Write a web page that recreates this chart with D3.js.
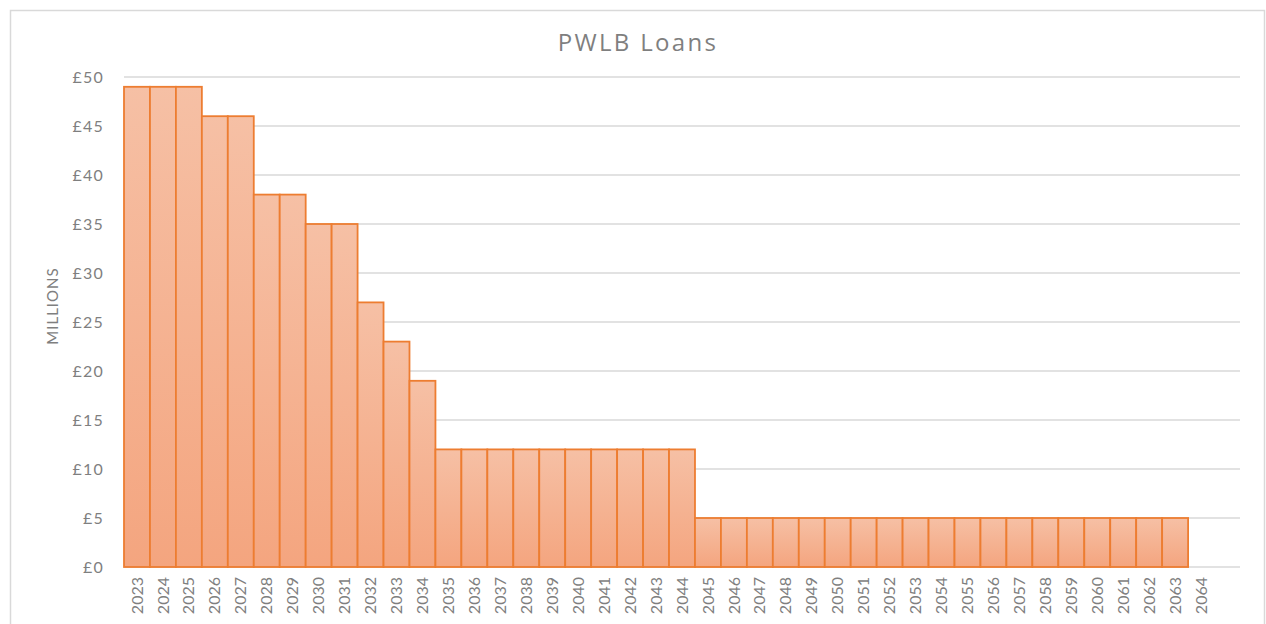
<!DOCTYPE html>
<html>
<head>
<meta charset="utf-8">
<script src="https://cdn.jsdelivr.net/npm/d3@7"></script>
<style>
  body { margin: 0; background: #fff; }
  svg { display: block; }
</style>
</head>
<body>
<div class="vis"></div>
<script>
const years = ['2023','2024','2025','2026','2027','2028','2029','2030','2031','2032','2033','2034',
  '2035','2036','2037','2038','2039','2040','2041','2042','2043','2044',
  '2045','2046','2047','2048','2049','2050','2051','2052','2053','2054','2055','2056','2057','2058',
  '2059','2060','2061','2062','2063','2064']
const loans = [49,49,49,46,46,38,38,35,35,27,23,19,
  12,12,12,12,12,12,12,12,12,12,
  5,5,5,5,5,5,5,5,5,5,5,5,5,5,5,5,5,5,5,0]
const yTicks = [0,5,10,15,20,25,30,35,40,45,50]

const w = 1266
const h = 624
const plotLeft = 124, plotRight = 1240, plotTop = 77, plotBottom = 567

const svg = d3.select('.vis')
  .append('svg')
  .attr('width', w)
  .attr('height', h)

// gradient for bars
const grad = svg.append('defs').append('linearGradient')
  .attr('id', 'barGrad')
  .attr('x1', 0).attr('y1', 0).attr('x2', 0).attr('y2', 1)
grad.append('stop').attr('offset', '0%').attr('stop-color', '#f6c0a5')
grad.append('stop').attr('offset', '100%').attr('stop-color', '#f4a57f')

// chart border
svg.append('rect')
  .attr('x', 10.5).attr('y', 10.5)
  .attr('width', 1254).attr('height', 640)
  .attr('fill', 'none')
  .attr('stroke', '#d9d9d9')
  .attr('stroke-width', 1.5)

// x has an extra empty slot at the end
const xScale = d3.scaleBand()
  .domain(years.concat(['']))
  .range([plotLeft, plotRight])
  .padding(0)

const yScale = d3.scaleLinear()
  .domain([0, 50])
  .range([plotBottom, plotTop])

// gridlines
svg.append('g')
  .selectAll('line')
  .data(yTicks)
  .enter().append('line')
  .attr('x1', plotLeft).attr('x2', plotRight)
  .attr('y1', d => yScale(d)).attr('y2', d => yScale(d))
  .attr('stroke', '#d9d9d9')
  .attr('stroke-width', 1.3)

// bars
svg.append('g')
  .selectAll('rect')
  .data(years.map((y, i) => [y, loans[i]]).filter(d => d[1] > 0))
  .enter().append('rect')
  .attr('x', d => xScale(d[0]))
  .attr('width', xScale.bandwidth())
  .attr('y', d => yScale(d[1]))
  .attr('height', d => yScale(0) - yScale(d[1]))
  .attr('fill', 'url(#barGrad)')
  .attr('stroke', '#ed7d31')
  .attr('stroke-width', 1.8)

// y axis labels
const yAxis = d3.axisLeft(yScale).tickValues(yTicks).tickSize(0).tickPadding(20)
  .tickFormat(d => '£' + d)
const gy = svg.append('g')
  .attr('transform', 'translate(' + plotLeft + ',0)')
  .call(yAxis)
gy.select('.domain').remove()
gy.selectAll('text')
  .attr('font-family', 'Lato, "Liberation Sans", sans-serif')
  .attr('font-size', 16)
  .attr('letter-spacing', 1.2)
  .attr('fill', '#7f7f7f')

// x axis labels
const xAxis = d3.axisBottom(xScale).tickSize(0).tickPadding(0)
const gx = svg.append('g')
  .attr('transform', 'translate(0,' + plotBottom + ')')
  .call(xAxis)
gx.select('.domain').remove()
gx.selectAll('text')
  .attr('font-family', 'Lato, "Liberation Sans", sans-serif')
  .attr('font-size', 16)
  .attr('fill', '#7f7f7f')
  .attr('transform', 'rotate(-90)')
  .attr('x', -10)
  .attr('y', 0)
  .attr('dy', '0.35em')
  .style('text-anchor', 'end')

// title
svg.append('text')
  .attr('x', 638)
  .attr('y', 51)
  .attr('text-anchor', 'middle')
  .attr('font-family', '"Open Sans", "Noto Sans", sans-serif')
  .attr('font-size', 24)
  .attr('letter-spacing', 2.3)
  .attr('fill', '#7f7f7f')
  .text('PWLB Loans')

// y axis title
svg.append('text')
  .attr('transform', 'translate(58,306) rotate(-90)')
  .attr('text-anchor', 'middle')
  .attr('font-family', 'Lato, "Liberation Sans", sans-serif')
  .attr('font-size', 15)
  .attr('letter-spacing', 1)
  .attr('fill', '#7f7f7f')
  .text('MILLIONS')
</script>
</body>
</html>
